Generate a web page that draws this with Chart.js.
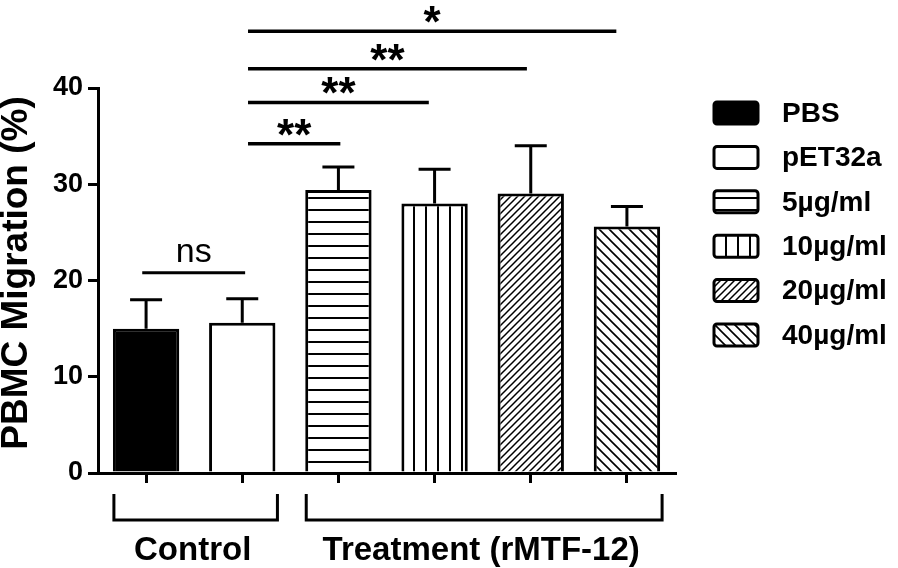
<!DOCTYPE html>
<html>
<head>
<meta charset="utf-8">
<script src="https://cdn.jsdelivr.net/npm/chart.js@4.4.1/dist/chart.umd.min.js"></script>
<style>
  html, body { margin: 0; padding: 0; background: #fff; }
  #wrap { width: 898px; height: 568px; position: relative; }
</style>
</head>
<body>
<div id="wrap"><canvas id="c" width="898" height="568"></canvas></div>
<script>
// ---- data ----
const groups = ['PBS', 'pET32a', '5µg/ml', '10µg/ml', '20µg/ml', '40µg/ml'];
const means = [15.0, 15.6, 29.4, 28.0, 29.05, 25.6];
const errors = [3.0, 2.5, 2.4, 3.55, 4.95, 2.1];
const fills = ['solid', 'empty', 'hlines', 'vlines', 'fdiag', 'bdiag'];
const yMin = 0, yMax = 40, yStep = 10;
const yTitle = 'PBMC Migration (%)';
// significance annotations (category positions and y levels)
const sigStart = [1.06, 1.06, 1.06, 1.06];
const sigEnd = [2.02, 2.94, 3.96, 4.89];
const sigLevel = [34.2, 38.5, 42.0, 45.9];
const sigMark = ['**', '**', '**', '*'];
const nsStart = [-0.04];
const nsEnd = [1.03];
const nsLevel = [20.8];
const nsMark = ['ns'];
// group brackets
const groupNames = ['Control', 'Treatment (rMTF-12)'];
const groupFirst = [0, 2];
const groupLast = [1, 5];

// ---- patterns ----
function makeFill(kind) {
  if (kind === 'solid') return '#000';
  if (kind === 'empty') return '#fff';
  const c = document.createElement('canvas');
  const x = c.getContext('2d');
  let s;
  if (kind === 'hlines') {
    s = 12; c.width = s; c.height = s;
    x.fillStyle = '#fff'; x.fillRect(0, 0, s, s);
    x.fillStyle = '#000'; x.fillRect(0, 5, s, 2);
  } else if (kind === 'vlines') {
    s = 12; c.width = s; c.height = s;
    x.fillStyle = '#fff'; x.fillRect(0, 0, s, s);
    x.fillStyle = '#000'; x.fillRect(5, 0, 2, s);
  } else if (kind === 'fdiag') {
    s = 7; c.width = s; c.height = s;
    x.fillStyle = '#fff'; x.fillRect(0, 0, s, s);
    x.strokeStyle = '#000'; x.lineWidth = 1.5;
    x.beginPath();
    x.moveTo(-1, s + 1); x.lineTo(s + 1, -1);
    x.moveTo(-2, 2); x.lineTo(2, -2);
    x.moveTo(s - 2, s + 2); x.lineTo(s + 2, s - 2);
    x.stroke();
  } else {
    s = 10; c.width = s; c.height = s;
    x.fillStyle = '#fff'; x.fillRect(0, 0, s, s);
    x.strokeStyle = '#000'; x.lineWidth = 1.6;
    x.beginPath();
    x.moveTo(-1, -1); x.lineTo(s + 1, s + 1);
    x.moveTo(s - 2, -2); x.lineTo(s + 2, 2);
    x.moveTo(-2, s - 2); x.lineTo(2, s + 2);
    x.stroke();
  }
  return x.createPattern(c, 'repeat');
}
const bgs = fills.map(makeFill);

const FONT = "'Liberation Sans', Arial, sans-serif";

// ---- plugins ----
const extras = {
  id: 'extras',
  afterDatasetsDraw(chart) {
    const ctx = chart.ctx;
    const ys = chart.scales.y;
    const meta = chart.getDatasetMeta(0);
    ctx.save();
    ctx.strokeStyle = '#000';
    ctx.lineWidth = 3;
    meta.data.forEach((bar, i) => {
      const top = ys.getPixelForValue(means[i] + errors[i]);
      ctx.beginPath();
      ctx.moveTo(bar.x, bar.y);
      ctx.lineTo(bar.x, top);
      ctx.moveTo(bar.x - 16, top);
      ctx.lineTo(bar.x + 16, top);
      ctx.stroke();
    });
    ctx.restore();
  },
  afterDraw(chart) {
    const ctx = chart.ctx;
    const xs = chart.scales.x, ys = chart.scales.y;
    const meta = chart.getDatasetMeta(0);
    ctx.save();
    ctx.strokeStyle = '#000';
    ctx.fillStyle = '#000';
    // significance lines
    ctx.lineWidth = 3.5;
    ctx.textAlign = 'center';
    ctx.textBaseline = 'alphabetic';
    sigLevel.forEach((lv, i) => {
      const y = ys.getPixelForValue(lv);
      const x1 = xs.getPixelForValue(sigStart[i]);
      const x2 = xs.getPixelForValue(sigEnd[i]);
      ctx.beginPath(); ctx.moveTo(x1, y); ctx.lineTo(x2, y); ctx.stroke();
      ctx.font = 'bold 44px ' + FONT;
      ctx.fillText(sigMark[i], (x1 + x2) / 2, y + 6);
    });
    nsLevel.forEach((lv, i) => {
      const y = ys.getPixelForValue(lv);
      const x1 = xs.getPixelForValue(nsStart[i]);
      const x2 = xs.getPixelForValue(nsEnd[i]);
      ctx.lineWidth = 3;
      ctx.beginPath(); ctx.moveTo(x1, y); ctx.lineTo(x2, y); ctx.stroke();
      ctx.font = '34px ' + FONT;
      ctx.fillText(nsMark[i], (x1 + x2) / 2, y - 11);
    });
    // group brackets
    ctx.lineWidth = 3;
    const bTop = chart.chartArea.bottom + 21, bBot = chart.chartArea.bottom + 47;
    groupNames.forEach((name, g) => {
      const a = meta.data[groupFirst[g]], b = meta.data[groupLast[g]];
      const x1 = a.x - a.width / 2 + 1, x2 = b.x + b.width / 2 + 2;
      ctx.beginPath();
      ctx.moveTo(x1, bTop); ctx.lineTo(x1, bBot); ctx.lineTo(x2, bBot); ctx.lineTo(x2, bTop);
      ctx.stroke();
      ctx.font = 'bold 33px ' + FONT;
      ctx.fillText(name, (x1 + x2) / 2 - 3, chart.chartArea.bottom + 87);
    });
    // y title
    ctx.save();
    ctx.translate(17, 273);
    ctx.rotate(-Math.PI / 2);
    ctx.font = 'bold 37px ' + FONT;
    ctx.textBaseline = 'middle';
    ctx.fillText(yTitle, 0, 0);
    ctx.restore();
    // legend
    const lx = 714, ly0 = 113, step = 44.4;
    groups.forEach((g, i) => {
      const cy = ly0 + step * i;
      ctx.fillStyle = bgs[i];
      ctx.beginPath();
      ctx.roundRect(lx, cy - 11, 44, 22, 3);
      ctx.fill();
      ctx.lineWidth = 3;
      ctx.stroke();
      ctx.fillStyle = '#000';
      ctx.font = 'bold 28px ' + FONT;
      ctx.textAlign = 'left';
      ctx.textBaseline = 'middle';
      ctx.fillText(g, 782, cy + 1);
    });
    ctx.restore();
  }
};

new Chart(document.getElementById('c'), {
  type: 'bar',
  data: {
    labels: groups,
    datasets: [{
      label: 'PBMC Migration',
      data: means,
      backgroundColor: bgs,
      borderColor: '#000',
      borderWidth: 3,
      borderSkipped: 'bottom',
      barPercentage: 0.69,
      categoryPercentage: 1.0
    }]
  },
  options: {
    responsive: false,
    animation: false,
    devicePixelRatio: 1,
    layout: { padding: { left: 0, top: 88, right: 223, bottom: 0 } },
    plugins: { legend: { display: false }, tooltip: { enabled: false } },
    scales: {
      x: {
        afterFit(s) { s.height = 95; },
        grid: { display: true, drawOnChartArea: false, drawTicks: true, tickLength: 10, offset: false, color: '#000', lineWidth: 3 },
        border: { display: true, color: '#000', width: 3 },
        ticks: { display: false }
      },
      y: {
        min: yMin, max: yMax,
        afterFit(s) { s.width = 98; },
        grid: { display: true, drawOnChartArea: false, drawTicks: true, tickLength: 10, color: '#000', lineWidth: 3 },
        border: { display: true, color: '#000', width: 3 },
        ticks: { stepSize: yStep, color: '#000', padding: 5, font: { family: FONT, size: 27, weight: 'bold' } }
      }
    }
  },
  plugins: [extras]
});
</script>
</body>
</html>
